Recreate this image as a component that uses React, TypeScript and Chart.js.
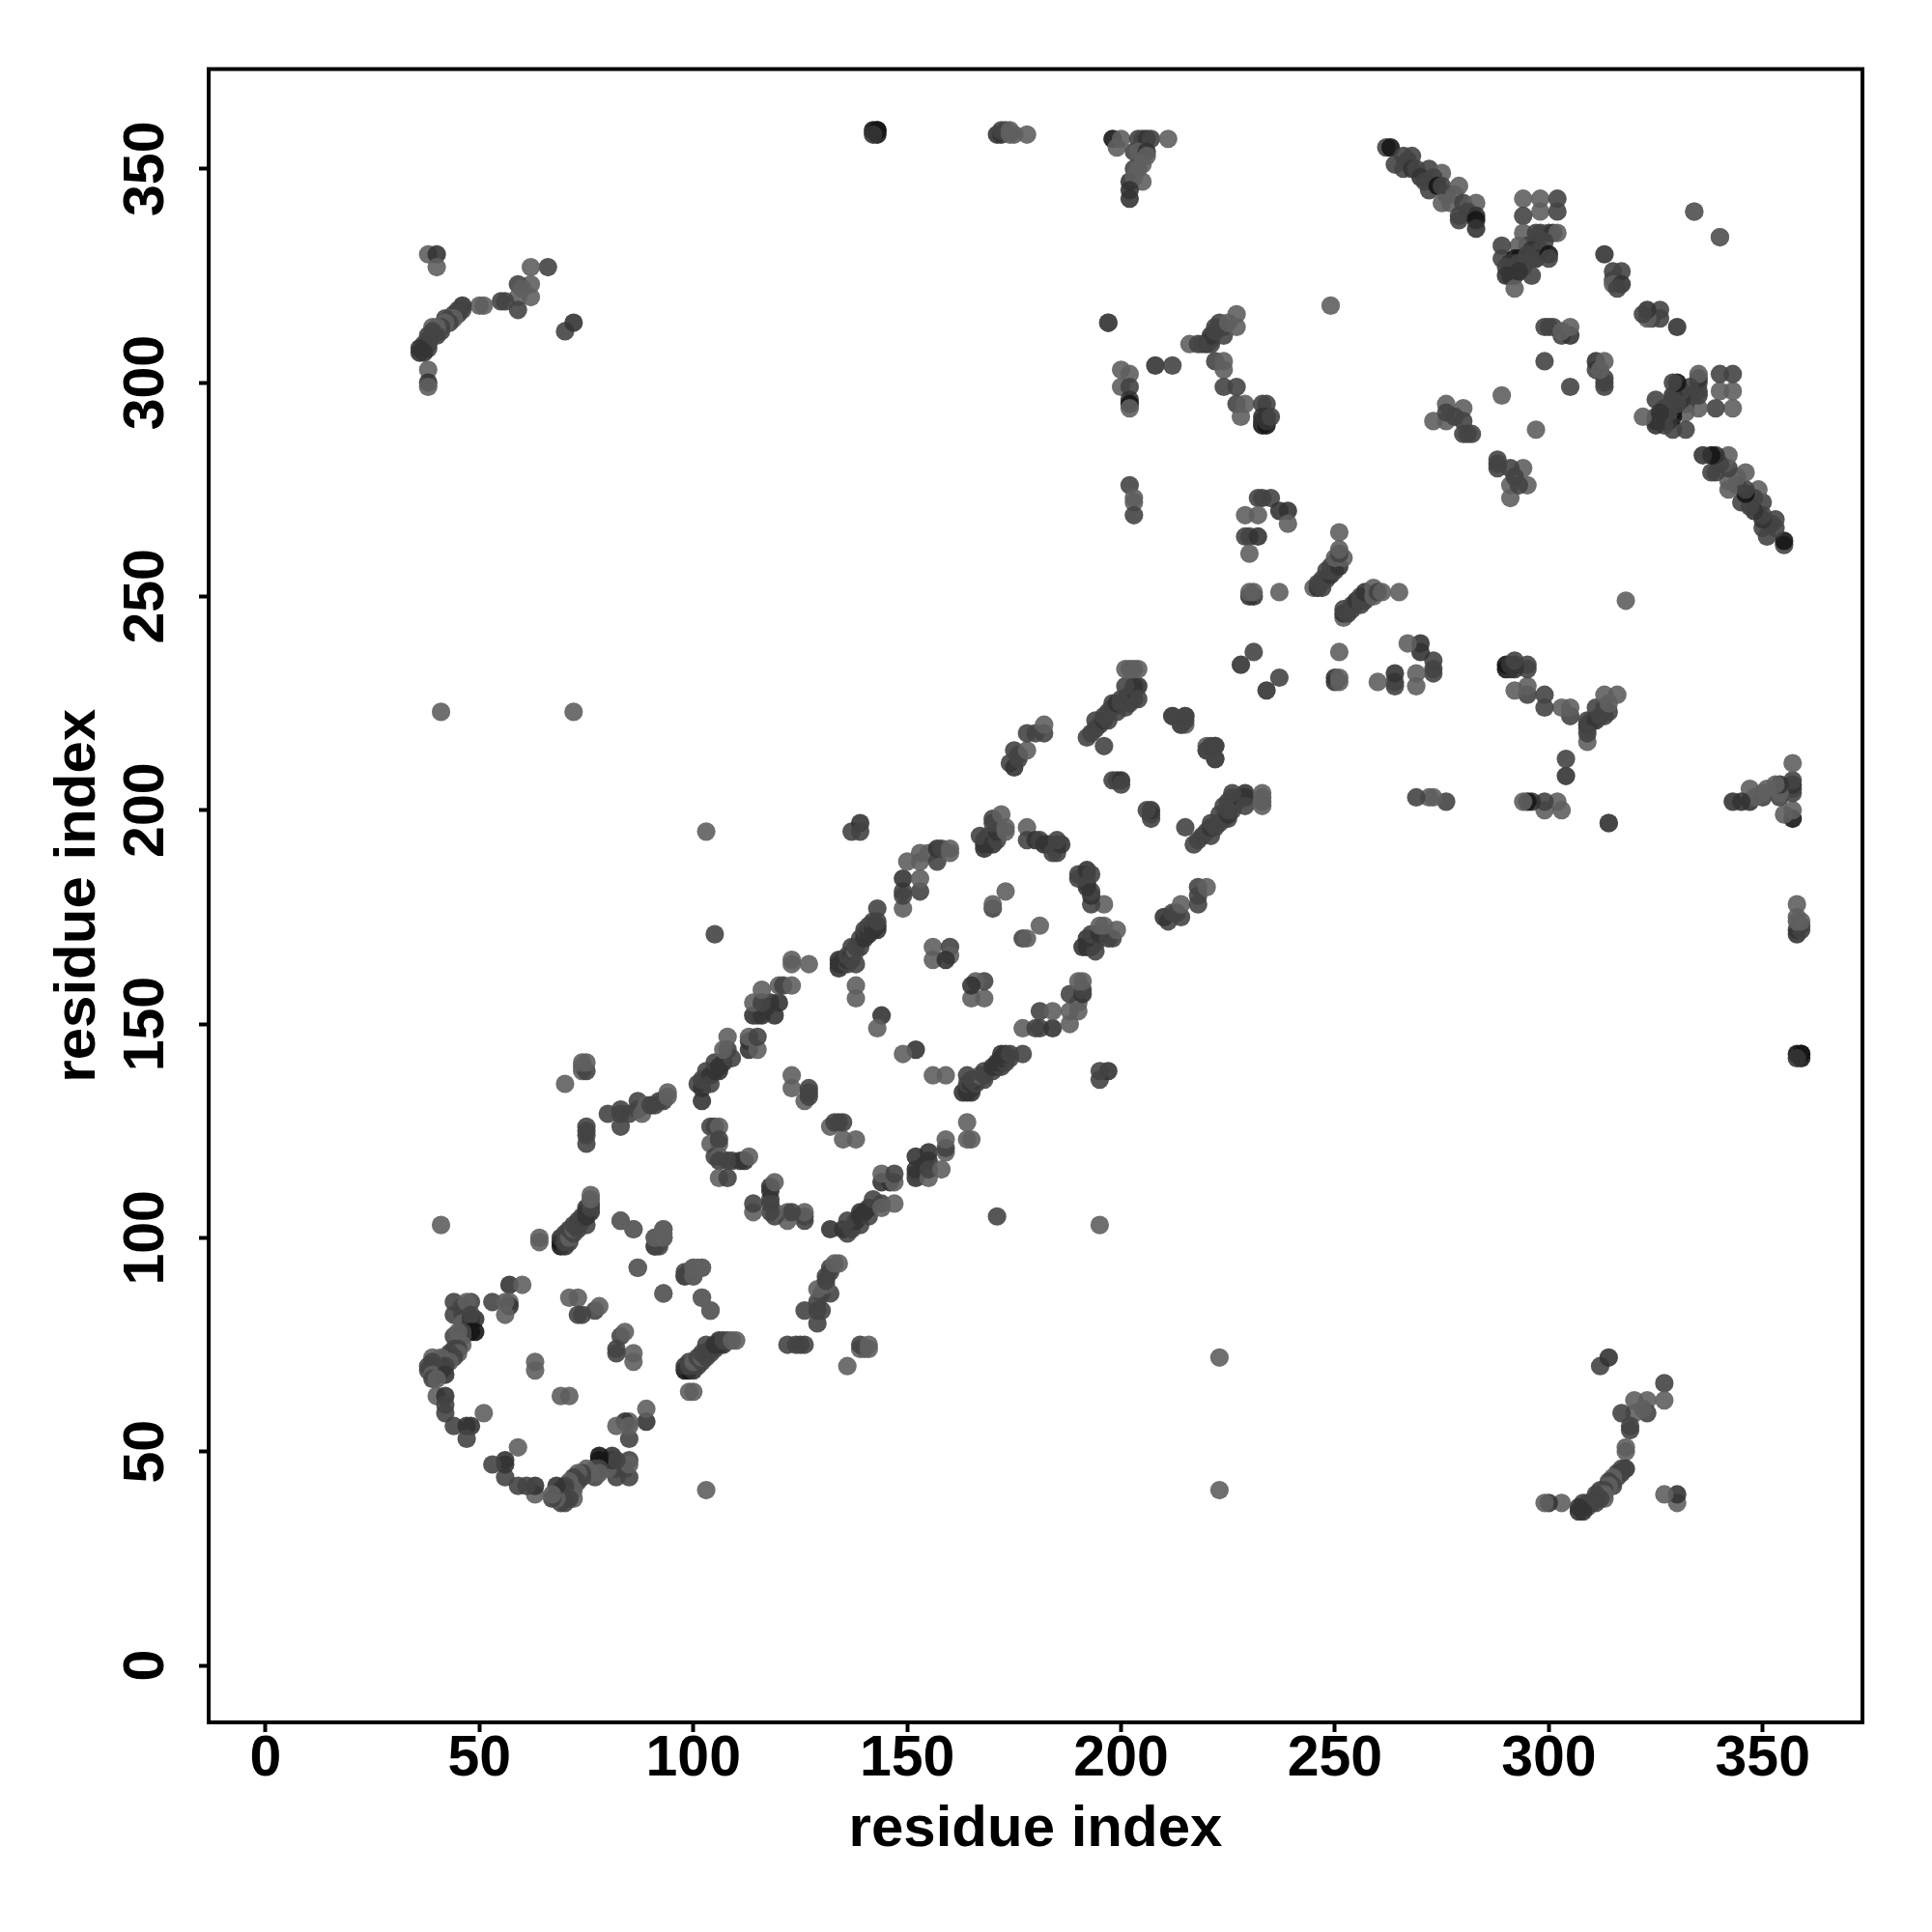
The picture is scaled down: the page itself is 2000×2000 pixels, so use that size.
import React, { useEffect, useRef } from "react";
import { Chart, registerables } from "chart.js";

Chart.register(...registerables);

// Each contact: [residue i, residue j, strength]; strength 1 = weak ... 4 = strongest.
// The map is symmetric, so each pair appears as (i, j) and (j, i).
type Contact = [number, number, number];

const isolatedContacts: Contact[] = [
  [41,103,1],[41,223,1],[72,223,1],[103,195,1],[105,171,2],[143,359,4],[143,359,4],[142,359,4],[143,358,4],[142,358,3],
  [171,358,3],[172,358,3],[172,359,2],[173,359,2],[174,358,1],[174,359,1],[175,358,1],[178,358,1],
  [197,314,2],[249,318,1],[314,197,2],[334,340,1],[340,334,1],
];

const ringOneContacts: Contact[] = [
  [64,100,1],[64,99,1],
  [69,98,4],[69,99,4],[70,98,3],[69,100,3],[70,99,2],[71,99,2],[70,101,2],[71,100,1],[71,102,2],[72,101,2],[72,102,1],[72,103,2],[73,102,2],[73,103,2],[73,104,2],[74,104,2],[75,103,2],[74,105,2],[75,105,3],[75,106,3],[75,107,3],[76,106,3],[76,107,2],[76,108,2],[76,109,1],[76,110,1],
  [83,104,1],[86,102,1],[91,98,2],[91,100,2],[92,98,2],[93,100,1],[93,101,1],[93,102,1],[87,93,1],[93,87,1],
  [98,91,2],[99,92,2],[100,91,1],[100,93,1],[102,93,1],[102,86,1],[104,83,1],
  [44,85,2],[46,84,2],[48,85,2],[44,82,2],[46,82,2],[47,85,1],[46,80,1],[48,81,3],[49,81,3],[48,82,2],[47,78,3],[48,78,4],[49,78,4],
  [44,77,2],[46,77,2],[46,78,2],[45,78,1],[45,76,1],[46,75,1],[45,75,1],[45,74,2],[44,74,2],[44,73,2],[45,73,1],[43,73,2],[43,72,2],[44,72,2],[42,72,2],[43,71,1],[41,71,2],[40,71,2],[41,72,1],[41,70,3],[40,70,2],[42,70,2],[40,69,2],[41,69,2],[40,68,3],[39,72,1],[39,71,2],[39,70,2],[38,70,2],[38,69,2],[39,68,1],[39,67,2],[42,68,3],[40,67,1],[40,63,1],[42,63,3],[42,61,2],[42,59,2],[44,56,2],[47,56,3],[48,56,3],[47,53,2],[51,59,1],
  [57,89,3],[60,89,1],[53,85,2],[57,85,1],[57,84,3],[56,85,1],[56,82,1],
  [71,86,1],[73,86,1],[73,82,2],[74,82,2],[77,83,2],[78,84,1],[63,71,1],[63,69,1],
];

const ringTwoContacts: Contact[] = [
  [80,129,2],[83,126,2],[83,129,2],[83,130,2],[85,129,2],[87,130,2],[87,132,2],[88,129,1],[89,131,1],[90,131,2],[91,131,2],[92,132,2],[93,132,2],[94,133,1],[94,134,1],
  [70,136,1],[74,139,1],[74,140,1],[75,139,2],[74,141,1],[75,141,1],[75,126,2],[75,125,2],[75,124,2],[75,122,2],
  [101,136,2],[102,132,3],[102,135,3],[102,137,2],[103,139,2],[104,138,3],[104,136,2],[105,139,3],[106,139,3],[105,141,2],[106,140,3],[107,141,3],[108,144,2],[109,142,2],[107,144,1],[108,147,1],
  [113,144,3],[113,146,3],[113,147,1],[115,144,1],[115,147,2],
  [114,152,3],[115,152,2],[116,152,3],[116,154,3],[117,154,3],[118,155,3],[120,155,3],[119,152,3],[114,155,1],[116,155,2],[116,158,1],[120,159,1],[121,159,2],[123,159,1],
  [123,165,1],[123,164,1],[127,164,1],
  [123,138,1],[123,135,1],[126,132,1],[127,133,2],[127,134,2],[127,135,2],
  [104,126,2],[105,126,2],[106,126,1],[104,122,1],[106,122,1],[106,123,2],[105,119,2],[106,119,1],[109,118,2],[111,118,3],[108,118,2],[106,118,2],[112,118,3],[113,119,1],[106,114,1],[108,114,2],
];

const ringThreeContacts: Contact[] = [
  [138,159,1],[138,156,1],[144,152,3],[143,149,1],
  [134,163,3],[134,164,3],[134,165,3],[135,164,3],[135,165,3],[136,164,2],[136,165,3],[136,166,2],[137,166,3],[137,165,2],[137,168,2],[138,167,1],[138,168,2],[138,164,2],[139,168,2],[139,170,2],[140,170,3],[140,171,3],[140,172,2],[141,171,3],[141,173,2],[142,172,3],[142,174,2],[143,172,3],[143,173,3],[143,174,2],[143,177,2],
  [149,177,1],[149,180,2],[149,181,2],[149,184,3],[153,181,2],[153,184,1],[150,188,1],[153,188,1],[153,190,1],[155,190,1],[157,188,2],[157,191,3],[158,191,2],[160,190,1],[160,191,1],
  [156,168,1],[160,168,2],[156,165,1],[160,166,1],[159,165,3],
  [173,181,1],[170,177,2],[170,178,1],
  [168,191,3],[168,192,3],[168,193,3],[167,194,2],[169,194,2],[170,192,3],[171,193,2],[171,195,3],[170,197,2],[170,198,2],[173,195,1],[173,196,1],[172,199,1],
  [178,196,1],[178,193,2],[180,193,3],[181,193,2],[182,192,3],[183,192,3],[184,190,2],[185,190,2],[185,192,2],[186,192,3],[185,193,2],
  [137,195,2],[139,197,3],[139,195,2],
];

const helixBandContacts: Contact[] = [
  [174,211,2],[175,210,3],[176,212,2],[175,214,2],[176,213,2],[178,214,1],[178,218,2],[180,218,2],[182,218,2],[182,220,1],
  [193,218,2],[194,219,2],[194,221,2],[195,220,2],[196,221,3],[197,221,2],[196,222,2],[197,223,2],[199,223,2],[198,224,2],[201,224,2],[198,225,2],[199,225,3],[200,225,2],[202,225,2],[200,226,2],[201,226,2],[203,226,2],[202,227,2],[203,228,3],[203,229,3],[204,229,3],[201,229,2],[204,226,2],[201,233,1],
  [202,233,1],[203,233,1],[204,233,1],
  [196,215,2],[198,207,2],[199,207,2],[200,207,3],[200,206,2],
  [212,222,2],[215,222,2],[214,220,1],[215,220,1],[220,214,2],[221,215,2],[222,215,2],[222,212,2],
  [217,192,2],
];

const upperBandContacts: Contact[] = [
  [228,234,3],[231,237,2],[232,273,2],[233,273,2],[235,273,2],[237,270,3],[239,270,3],[239,267,1],[229,269,1],[232,269,1],
  [229,264,2],[230,264,2],[232,264,3],[230,260,1],[230,250,3],[231,250,3],[230,251,1],[231,251,1],[237,251,1],
  [245,252,1],[246,252,3],[247,252,2],[246,253,2],[247,254,2],[248,254,2],[249,255,3],[248,256,2],[250,256,2],[249,256,2],[249,257,2],[250,258,2],[251,257,3],[250,259,1],[252,259,1],[251,260,2],[251,261,1],[251,265,1],
  [202,276,2],[203,273,1],[203,272,1],[203,269,2],
];

const topBandContacts: Contact[] = [
  [198,357,4],[199,355,1],[200,357,1],[204,357,2],[205,357,2],[206,357,3],[207,357,2],[211,357,1],[203,354,2],[204,354,1],[206,354,3],[206,353,1],[203,350,2],[204,350,1],[205,351,1],[202,347,3],[203,348,1],[205,347,1],[202,345,3],[202,343,3],
  [216,309,1],[219,309,1],[220,309,3],[221,309,2],[221,310,2],[221,311,3],[222,312,2],[222,313,2],[223,314,2],[224,311,2],[224,313,2],[225,314,1],[227,313,1],[227,316,1],[218,309,2],
  [208,304,3],[212,304,2],
  [200,303,1],[202,302,1],[200,299,1],[202,299,2],[202,296,3],[202,295,4],[202,294,1],
  [222,305,2],[224,305,1],[224,303,1],[224,299,2],[227,299,2],[227,295,2],[229,295,1],[228,292,1],
  [233,295,2],[234,295,2],[233,290,4],[233,291,3],[233,292,3],[234,290,4],[234,291,3],[234,292,3],[235,292,2],
];

const farCornerContacts: Contact[] = [
  [262,355,2],[263,355,4],[266,353,2],[268,353,2],[266,350,2],[264,351,2],[267,352,2],[268,350,3],[269,350,2],[272,350,2],[275,349,1],[270,348,3],[273,348,2],[271,347,2],[272,345,2],[274,346,4],[275,346,2],[279,346,1],[276,344,2],[278,344,1],[275,342,1],[277,342,1],[280,342,2],[283,342,1],[281,340,2],[279,339,2],[279,338,2],[283,339,3],[283,338,4],[283,336,3],
  [273,291,1],[276,291,1],[276,295,1],[280,294,1],[278,292,2],[276,293,2],[280,291,2],[280,288,2],[281,288,2],[282,288,2],
  [289,297,1],[299,305,2],[299,313,2],[300,313,2],[301,313,2],[303,311,2],[305,311,3],[303,312,1],[305,313,1],
  [313,330,3],[315,326,2],[317,326,2],[315,324,2],[315,323,1],[317,323,3],[316,322,2],
  [294,343,1],[298,343,1],[302,343,2],[298,340,1],[302,340,2],[294,339,2],
  [294,335,1],[297,335,2],[298,335,2],[300,335,2],[301,335,3],[302,335,1],[297,333,2],[299,333,2],[295,332,2],[293,332,1],[296,331,3],[298,331,2],[289,332,2],[289,329,2],[293,329,4],[292,329,4],[291,328,3],[293,328,2],[290,327,2],[297,329,3],[296,329,2],[300,330,4],[300,329,2],[295,330,2],[290,325,3],[292,325,2],[291,325,3],[292,322,1],[296,325,2],[294,327,2],[293,326,3],
];

const distantClusterContacts: Contact[] = [
  [38,330,1],[40,330,3],[40,327,1],[66,327,2],[62,327,1],[62,323,1],[62,320,1],[59,323,2],[59,320,1],[60,322,1],[59,317,2],[55,319,2],[56,319,2],[50,318,1],[51,318,1],[46,318,3],[46,317,2],[45,317,2],[45,316,2],[44,316,2],[44,315,1],[43,315,1],[43,314,2],[42,315,2],[42,314,1],[41,313,2],[41,312,2],[40,313,1],[40,312,1],[40,311,2],[39,313,1],[39,312,2],[39,311,2],[38,311,2],[38,310,2],[38,309,2],[37,309,2],[38,308,2],[37,307,3],[36,308,3],[36,307,3],[38,303,1],[38,300,3],[38,299,1],[70,312,2],[72,314,3],
];

const tickValues = [0, 50, 100, 150, 200, 250, 300, 350];
const axisMin = -13.32;
const axisMax = 373.32;
const axisLabel = "residue index";

const contactGroups = [
  isolatedContacts,
  ringOneContacts,
  ringTwoContacts,
  ringThreeContacts,
  helixBandContacts,
  upperBandContacts,
  topBandContacts,
  farCornerContacts,
  distantClusterContacts,
];

const strengthColor: Record<number, string> = {
  1: "rgba(95,95,95,0.9)",
  2: "rgba(68,68,68,0.9)",
  3: "rgba(52,52,52,0.9)",
  4: "rgba(22,22,22,0.9)",
};

const tickFont = { family: "'Liberation Sans', Arial, sans-serif", size: 59, weight: "bold" as const };
const titleFont = { family: "'Liberation Sans', Arial, sans-serif", size: 60, weight: "bold" as const };

export default function App() {
  const ref = useRef<HTMLCanvasElement | null>(null);

  useEffect(() => {
    if (!ref.current) return;
    const points: { x: number; y: number }[] = [];
    const colors: string[] = [];
    for (const group of contactGroups) {
      for (const [i, j, s] of group) {
        points.push({ x: i, y: j });
        colors.push(strengthColor[s]);
        points.push({ x: j, y: i });
        colors.push(strengthColor[s]);
      }
    }
    const frame = {
      id: "frame",
      afterDraw(chart: Chart) {
        const { ctx, chartArea: a } = chart;
        ctx.save();
        ctx.strokeStyle = "#000";
        ctx.lineWidth = 4;
        ctx.strokeRect(a.left, a.top, a.right - a.left, a.bottom - a.top);
        ctx.restore();
      },
    };
    const setTicks = (scale: any) => {
      scale.ticks = tickValues.map((value) => ({ value }));
    };
    const chart = new Chart(ref.current, {
      type: "scatter",
      data: {
        datasets: [
          {
            data: points,
            showLine: false,
            pointRadius: 9.6,
            pointHoverRadius: 9.6,
            pointBorderWidth: 0,
            pointBackgroundColor: colors,
          },
        ],
      },
      options: {
        responsive: false,
        animation: false,
        devicePixelRatio: 1,
        events: [],
        layout: { padding: { left: 0, bottom: 0, right: 72, top: 71.5 } },
        plugins: { legend: { display: false }, tooltip: { enabled: false }, title: { display: false } },
        scales: {
          x: {
            type: "linear",
            min: axisMin,
            max: axisMax,
            afterBuildTicks: setTicks,
            afterFit: (scale: any) => {
              scale.height = 217;
            },
            grid: { drawOnChartArea: false, drawTicks: true, tickLength: 10, tickWidth: 4, tickColor: "#000" },
            border: { display: false },
            ticks: { font: tickFont, color: "#000", padding: -6.5, maxRotation: 0, minRotation: 0, autoSkip: false },
            title: { display: true, text: axisLabel, font: titleFont, color: "#000", padding: { top: 0, bottom: 69.5 } },
          },
          y: {
            type: "linear",
            min: axisMin,
            max: axisMax,
            afterBuildTicks: setTicks,
            afterFit: (scale: any) => {
              scale.width = 216;
            },
            grid: { drawOnChartArea: false, drawTicks: true, tickLength: 10, tickWidth: 4, tickColor: "#000" },
            border: { display: false },
            ticks: { font: tickFont, color: "#000", padding: 4, minRotation: 90, maxRotation: 90, crossAlign: "center", autoSkip: false },
            title: { display: true, text: axisLabel, font: titleFont, color: "#000", padding: { top: 45.5, bottom: 0 } },
          },
        },
      },
      plugins: [frame],
    });
    return () => chart.destroy();
  }, []);

  return (
    <canvas
      ref={ref}
      width={2000}
      height={2000}
      style={{ position: "absolute", left: 0, top: 0, width: 2000, height: 2000, display: "block", background: "#fff" }}
    />
  );
}
